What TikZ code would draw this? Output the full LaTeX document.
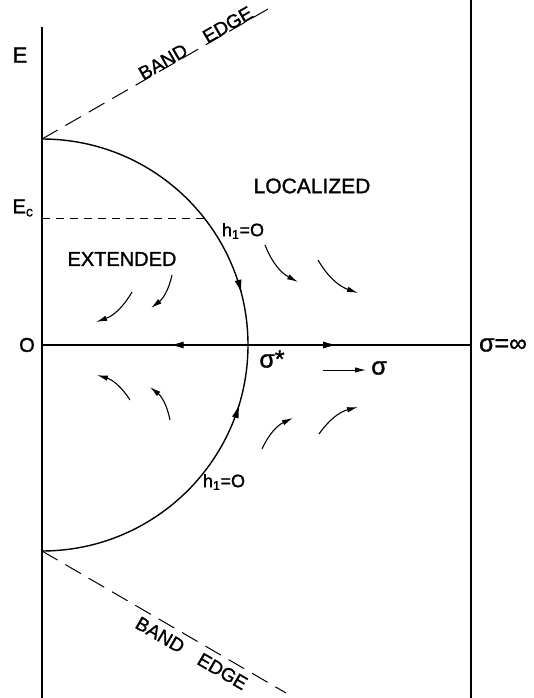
\documentclass[tikz,border=0pt]{standalone}
\usepackage{fontspec}
\setmainfont{Liberation Sans}[BoldFont=Liberation Sans, BoldFeatures={FakeBold=1.3}]
\usetikzlibrary{arrows.meta,decorations.markings}
\begin{document}
\begin{tikzpicture}[x=1pt,y=-1pt,
  mainline/.style={line width=1.4pt},
  bandline/.style={line width=1pt, dash pattern=on 18pt off 9pt},
  ecline/.style={line width=1pt, dash pattern=on 8pt off 6pt},
  flow/.style={line width=1.1pt,-{Latex[length=11pt,width=5.5pt]}},
  lbl/.style={inner sep=0pt, font=\fontsize{20}{24}\selectfont\bfseries},
  bandlbl/.style={inner sep=0pt, font=\fontsize{19}{23}\selectfont\bfseries, sloped},
  midarrow/.style={postaction={decorate},decoration={markings, mark=at position #1 with {\arrow{Latex[length=14pt,width=7pt]}}}},
]
\useasboundingbox (0,0) rectangle (534,698);
% frame coordinates
\coordinate (Ltop) at (42,27);
\coordinate (Lbot) at (42,698);
\coordinate (Rtop) at (471,0);
\coordinate (Rbot) at (471,698);
\coordinate (O) at (42,345);
\coordinate (A) at (42,139);
\coordinate (B) at (42,551);
\coordinate (S) at (248,345);
\coordinate (Inf) at (471,345);
\coordinate (UE) at (268,9);
\coordinate (LE) at (286,693);
\coordinate (Ec) at (42,218);
\coordinate (EcArc) at (204,218);

\draw[mainline] (Ltop) -- (Lbot);
\draw[mainline] (Rtop) -- (Rbot);
\draw[mainline, midarrow=0.38] (S) -- (O);
\draw[mainline, midarrow=0.40] (S) -- (Inf);
\draw[mainline, midarrow=0.84] (A) arc[start angle=-90,end angle=0,radius=206];
\draw[mainline, midarrow=0.815] (B) arc[start angle=90,end angle=0,radius=206];

% band edges
\draw[bandline] (A) -- (UE)
  node[bandlbl, pos=0.55, anchor=base] {BAND}
  node[bandlbl, pos=0.836, anchor=base] {EDGE};
\draw[bandline] (B) -- (LE)
  node[bandlbl, pos=0.511, anchor=north, yshift=-6pt] {BAND}
  node[bandlbl, pos=0.767, anchor=north, yshift=-6pt] {EDGE};
\draw[ecline] (Ec) -- (EcArc);

% flow arrows
\coordinate (t1) at (132,292); \coordinate (h1) at (96,322);
\coordinate (t2) at (172,275); \coordinate (h2) at (151,308);
\coordinate (t3) at (130,400); \coordinate (h3) at (97,375);
\coordinate (t4) at (170,420); \coordinate (h4) at (150,387);
\coordinate (t5) at (265,245); \coordinate (h5) at (298,282);
\coordinate (t6) at (318,260); \coordinate (h6) at (358,293);
\coordinate (t7) at (262,449); \coordinate (h7) at (293,418);
\coordinate (t8) at (319,434); \coordinate (h8) at (358,407);
\draw[flow] (t1) to[bend left=20] (h1);
\draw[flow] (t2) to[bend left=20] (h2);
\draw[flow] (t3) to[bend right=20] (h3);
\draw[flow] (t4) to[bend right=20] (h4);
\draw[flow] (t5) to[bend right=20] (h5);
\draw[flow] (t6) to[bend right=20] (h6);
\draw[flow] (t7) to[bend left=20] (h7);
\draw[flow] (t8) to[bend left=20] (h8);

% sigma direction arrow
\coordinate (st) at (323,370);
\coordinate (sh) at (366,370);
\draw[line width=1pt,-{Latex[length=11pt,width=5.5pt]}] (st) -- (sh);

% labels
\node[lbl, font=\fontsize{22}{26}\selectfont\bfseries] (lE) at (20,55) {E};
\node[lbl] (lEc) at (23,208) {E\textsubscript{c}};
\node[lbl] (lO) at (27,345) {O};
\node[lbl] (lext) at (122,259) {EXTENDED};
\node[lbl, font=\fontsize{21}{25}\selectfont\bfseries] (lloc) at (312,186) {LOCALIZED};
\node[lbl, font=\fontsize{18}{22}\selectfont\bfseries] (lh1) at (243,231) {h\textsubscript{1}=O};
\node[lbl, font=\fontsize{18}{22}\selectfont\bfseries] (lh2) at (224,482) {h\textsubscript{1}=O};
\node[lbl, font=\fontsize{25}{29}\selectfont\bfseries] (lss) at (272,359) {σ*};
\node[lbl, font=\fontsize{25}{29}\selectfont\bfseries] (ls) at (379,368) {σ};
\node[lbl, font=\fontsize{25}{29}\selectfont\bfseries] (linf) at (503,345) {σ=∞};
\end{tikzpicture}
\end{document}
